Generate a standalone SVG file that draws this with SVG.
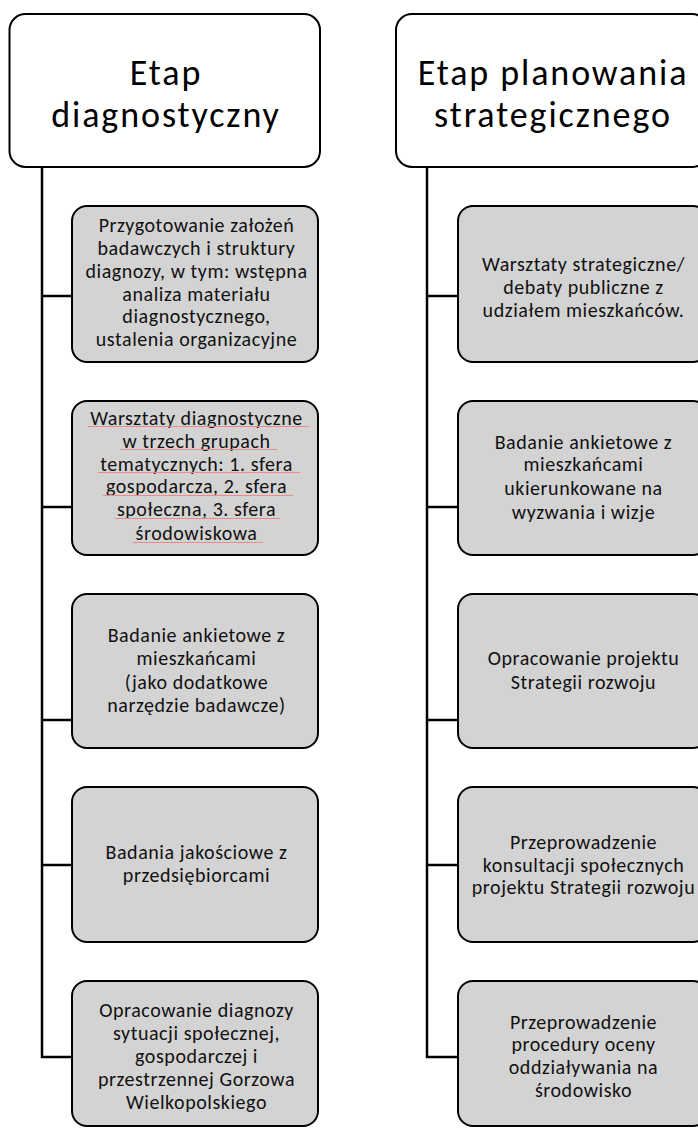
<svg xmlns="http://www.w3.org/2000/svg" width="698" height="1128" viewBox="0 0 698 1128">
<style>
.hdr{fill:#fff;stroke:#000;stroke-width:2}
.box{fill:#d3d3d3;stroke:#000;stroke-width:2}
.conn{fill:none;stroke:#000;stroke-width:2.5}
.ht{font-family:Carlito,Lato,sans-serif;font-size:36px;letter-spacing:1.9px;fill:#000;text-anchor:middle}
.bt{font-family:Carlito,Lato,sans-serif;font-size:20px;letter-spacing:0.55px;fill:#111;text-anchor:middle}
.sq{stroke:#f08a8a;stroke-width:1;fill:none}
</style>
<rect width="698" height="1128" fill="#fff"/>
<g id="connectors">
<path class="conn" d="M42,167V1057H72M42,296H72M42,507H72M42,720H72M42,865H72"/>
<path class="conn" d="M427,167V1057H458M427,296H458M427,507H458M427,720H458M427,865H458"/>
</g>
<g id="hdr-left">
<rect class="hdr" x="9.5" y="14" width="310.5" height="153" rx="16"/>
<text class="ht"><tspan x="166" y="85">Etap</tspan><tspan x="166" y="127">diagnostyczny</tspan></text>
</g>
<g id="hdr-right">
<rect class="hdr" x="396" y="14" width="312" height="153" rx="16"/>
<text class="ht"><tspan x="553" y="85">Etap planowania</tspan><tspan x="553" y="127">strategicznego</tspan></text>
</g>
<g id="l1">
<rect class="box" x="72" y="206" width="246" height="156" rx="15"/>
<text class="bt" x="196.5" y="232">Przygotowanie założeń</text>
<text class="bt" x="196.5" y="255">badawczych i struktury</text>
<text class="bt" x="196.5" y="277.5">diagnozy, w tym: wstępna</text>
<text class="bt" x="196.5" y="300.5">analiza materiału</text>
<text class="bt" x="196.5" y="323">diagnostycznego,</text>
<text class="bt" x="196.5" y="346">ustalenia organizacyjne</text>
</g>
<g id="l2">
<rect class="box" x="72" y="401" width="246" height="154" rx="15"/>
<text class="bt" x="196.5" y="424.5">Warsztaty diagnostyczne</text>
<text class="bt" x="196.5" y="447.5">w trzech grupach</text>
<text class="bt" x="196.5" y="470.5">tematycznych: 1. sfera</text>
<text class="bt" x="196.5" y="493">gospodarcza, 2. sfera</text>
<text class="bt" x="196.5" y="516">społeczna, 3. sfera</text>
<text class="bt" x="196.5" y="540">środowiskowa</text>
<path class="sq" d="M88,426.5H309M120,449.5H277M98,472.5H300M103,495.5H293M115,518.5H280M133,542.5H263"/>
</g>
<g id="l3">
<rect class="box" x="72" y="594" width="246" height="154" rx="15"/>
<text class="bt" x="196.5" y="641.5">Badanie ankietowe z</text>
<text class="bt" x="196.5" y="665">mieszkańcami</text>
<text class="bt" x="196.5" y="688.5">(jako dodatkowe</text>
<text class="bt" x="196.5" y="711.5">narzędzie badawcze)</text>
</g>
<g id="l4">
<rect class="box" x="72" y="787" width="246" height="155" rx="15"/>
<text class="bt" x="196.5" y="858.5">Badania jakościowe z</text>
<text class="bt" x="196.5" y="881.5">przedsiębiorcami</text>
</g>
<g id="l5">
<rect class="box" x="72" y="981" width="246" height="145" rx="15"/>
<text class="bt" x="196.5" y="1016.5">Opracowanie diagnozy</text>
<text class="bt" x="196.5" y="1040">sytuacji społecznej,</text>
<text class="bt" x="196.5" y="1062.5">gospodarczej i</text>
<text class="bt" x="196.5" y="1086">przestrzennej Gorzowa</text>
<text class="bt" x="196.5" y="1108.5">Wielkopolskiego</text>
</g>
<g id="r1">
<rect class="box" x="458" y="206" width="250" height="156" rx="15"/>
<text class="bt" x="583.5" y="271">Warsztaty strategiczne/</text>
<text class="bt" x="583.5" y="294">debaty publiczne z</text>
<text class="bt" x="583.5" y="317">udziałem mieszkańców.</text>
</g>
<g id="r2">
<rect class="box" x="458" y="401" width="250" height="154" rx="15"/>
<text class="bt" x="583.5" y="448.5">Badanie ankietowe z</text>
<text class="bt" x="583.5" y="471">mieszkańcami</text>
<text class="bt" x="583.5" y="495">ukierunkowane na</text>
<text class="bt" x="583.5" y="518.5">wyzwania i wizje</text>
</g>
<g id="r3">
<rect class="box" x="458" y="594" width="250" height="154" rx="15"/>
<text class="bt" x="583.5" y="665">Opracowanie projektu</text>
<text class="bt" x="583.5" y="688.5">Strategii rozwoju</text>
</g>
<g id="r4">
<rect class="box" x="458" y="787" width="250" height="155" rx="15"/>
<text class="bt" x="583.5" y="848.5">Przeprowadzenie</text>
<text class="bt" x="583.5" y="871.5">konsultacji społecznych</text>
<text class="bt" x="583.5" y="894">projektu Strategii rozwoju</text>
</g>
<g id="r5">
<rect class="box" x="458" y="981" width="250" height="145" rx="15"/>
<text class="bt" x="583.5" y="1028.5">Przeprowadzenie</text>
<text class="bt" x="583.5" y="1051">procedury oceny</text>
<text class="bt" x="583.5" y="1074">oddziaływania na</text>
<text class="bt" x="583.5" y="1097">środowisko</text>
</g>
</svg>
